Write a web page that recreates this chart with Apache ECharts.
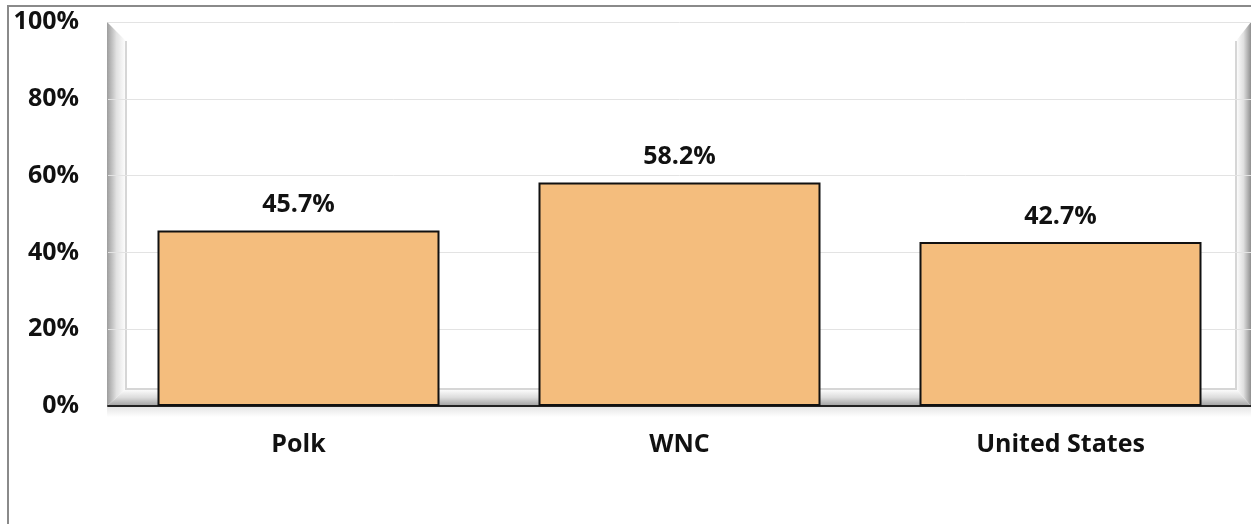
<!DOCTYPE html>
<html>
<head>
<meta charset="utf-8">
<script src="https://cdn.jsdelivr.net/npm/echarts@6/dist/echarts.min.js"></script>
<style>
  html, body { margin: 0; padding: 0; background: #fff; }
  #chart { width: 1251px; height: 524px; }
</style>
</head>
<body>
<div id="chart"></div>
<script>
var categories = ['Polk', 'WNC', 'United States'];
var values = [45.7, 58.2, 42.7];

var barColor = '#F4BD7D';
var font = '"Open Sans", "Noto Sans", sans-serif';

// 3D-ish Excel wall, drawn under the grid
function wallGraphics() {
  var L = 107, T = 22, R = 1251, B = 406;
  var iL = 126, iT = 41, iR = 1236, iB = 389;
  return [
    {
      type: 'polygon', z: -10, silent: true,
      shape: { points: [[L, T], [iL, iT], [iL, iB], [L, B]] },
      style: { fill: new echarts.graphic.LinearGradient(0, 0, 1, 0, [
        { offset: 0, color: '#9d9d9d' }, { offset: 0.5, color: '#e2e2e2' }, { offset: 1, color: '#ffffff' }]) }
    },
    {
      type: 'polygon', z: -10, silent: true,
      shape: { points: [[R, T], [iR, iT], [iR, iB], [R, B]] },
      style: { fill: new echarts.graphic.LinearGradient(0, 0, 1, 0, [
        { offset: 0, color: '#ffffff' }, { offset: 0.5, color: '#e0e0e0' }, { offset: 1, color: '#8f8f8f' }]) }
    },
    {
      type: 'polygon', z: -9, silent: true,
      shape: { points: [[L, B], [iL, iB], [iR, iB], [R, B]] },
      style: { fill: new echarts.graphic.LinearGradient(0, 0, 0, 1, [
        { offset: 0, color: '#ffffff' }, { offset: 0.5, color: '#dcdcdc' }, { offset: 1, color: '#a0a0a0' }]) }
    },
    {
      type: 'polyline', z: -8, silent: true,
      shape: { points: [[iL, iT], [iL, iB], [iR, iB], [iR, iT]] },
      style: { stroke: '#d6d6d6', lineWidth: 2, fill: null }
    },
    {
      type: 'rect', z: -8, silent: true,
      shape: { x: L, y: B + 1, width: R - L, height: 10 },
      style: { fill: new echarts.graphic.LinearGradient(0, 0, 0, 1, [
        { offset: 0, color: '#e6e6e6' }, { offset: 1, color: '#ffffff' }]) }
    },
    // outer chart border (left and top)
    {
      type: 'polyline', z: -5, silent: true,
      shape: { points: [[8, 524], [8, 6], [1251, 6]] },
      style: { stroke: '#8a8a8a', lineWidth: 2, fill: null }
    }
  ];
}

var chart = echarts.init(document.getElementById('chart'));
chart.setOption({
  animation: false,
  backgroundColor: '#fff',
  graphic: wallGraphics(),
  grid: { left: 108, top: 22, width: 1145, height: 384, containLabel: false },
  xAxis: {
    type: 'category',
    data: categories,
    axisLine: { show: true, lineStyle: { color: '#222', width: 2 } },
    axisTick: { show: false },
    axisLabel: {
      margin: 26,
      fontFamily: font, fontWeight: 'bold', fontSize: 25, color: '#111'
    }
  },
  yAxis: {
    type: 'value',
    min: 0, max: 100, interval: 20,
    axisLine: { show: false },
    axisTick: { show: false },
    splitLine: { show: true, lineStyle: { color: '#e3e3e3', width: 1 } },
    axisLabel: {
      margin: 29,
      formatter: '{value}%',
      fontFamily: font, fontWeight: 'bold', fontSize: 25, color: '#111'
    }
  },
  series: [{
    type: 'bar',
    data: values,
    barWidth: 282,
    itemStyle: { color: barColor, borderColor: '#111', borderWidth: 2 },
    label: {
      show: true,
      position: 'top',
      distance: 13,
      formatter: function (p) { return p.value.toFixed(1) + '%'; },
      fontFamily: font, fontWeight: 'bold', fontSize: 25, color: '#111'
    }
  }]
});
</script>
</body>
</html>
